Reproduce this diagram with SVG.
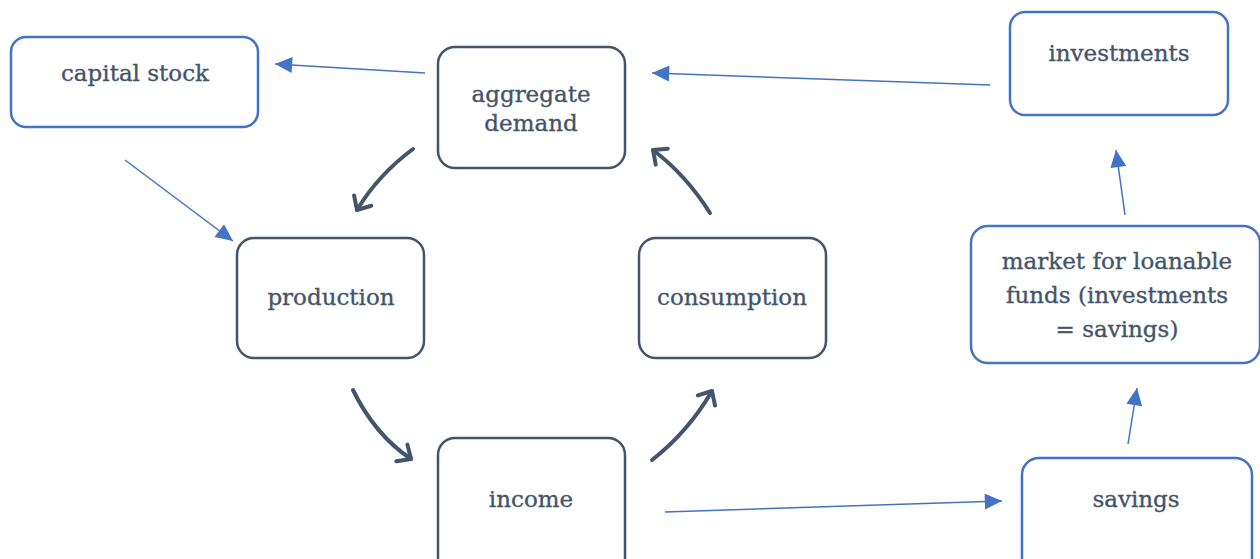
<svg xmlns="http://www.w3.org/2000/svg" width="1260" height="559" viewBox="0 0 1260 559">
  <style>
    .blue { fill: #ffffff; stroke: #4472c4; stroke-width: 2.5; }
    .dark { fill: #ffffff; stroke: #44546a; stroke-width: 2.5; }
    .lbl { font-family: "DejaVu Serif", "Liberation Serif", serif; font-size: 23px; fill: #44546a; stroke: #44546a; stroke-width: 0.35; text-anchor: middle; }
    .thin { fill: none; stroke: #4472c4; stroke-width: 1.5; marker-end: url(#tri); }
    .flow { fill: none; stroke: #44546a; stroke-width: 4; stroke-linecap: round; marker-end: url(#chev); }
  </style>
  <defs>
    <marker id="tri" markerUnits="userSpaceOnUse" markerWidth="20" markerHeight="16" refX="15" refY="7" orient="auto" viewBox="0 0 16 14">
      <path d="M0,0 L15,7 L0,14 Z" fill="#4472c4"/>
    </marker>
    <marker id="chev" markerUnits="userSpaceOnUse" markerWidth="30" markerHeight="30" refX="15" refY="15" orient="auto" viewBox="0 0 30 30">
      <path d="M4,5 L15,15 L4,25" fill="none" stroke="#44546a" stroke-width="4" stroke-linecap="round" stroke-linejoin="round"/>
    </marker>
  </defs>

  <rect width="1260" height="559" fill="#ffffff"/>

  <g id="connectors">
    <line class="thin" x1="425" y1="73" x2="275" y2="64"/>
    <line class="thin" x1="125" y1="160" x2="233" y2="241"/>
    <line class="thin" x1="990" y1="85" x2="652" y2="73"/>
    <line class="thin" x1="665" y1="512" x2="1002" y2="501"/>
    <line class="thin" x1="1128" y1="444" x2="1137" y2="388"/>
    <line class="thin" x1="1125" y1="215" x2="1116" y2="150"/>
    <path class="flow" d="M413,149 Q378,175 357,210"/>
    <path class="flow" d="M710,213 Q686,175 653,150"/>
    <path class="flow" d="M353,390 Q375,435 411,459"/>
    <path class="flow" d="M652,460 Q688,432 712,391"/>
  </g>

  <g id="capital-stock">
    <rect class="blue" x="11" y="37" width="247" height="90" rx="15"/>
    <text class="lbl" x="135" y="81">capital stock</text>
  </g>
  <g id="aggregate-demand">
    <rect class="dark" x="438" y="47" width="187" height="121" rx="17"/>
    <text class="lbl" x="531" y="102">aggregate</text>
    <text class="lbl" x="531" y="131">demand</text>
  </g>
  <g id="investments">
    <rect class="blue" x="1010" y="12" width="218" height="103" rx="15"/>
    <text class="lbl" x="1119" y="61">investments</text>
  </g>
  <g id="production">
    <rect class="dark" x="237" y="238" width="187" height="120" rx="17"/>
    <text class="lbl" x="331" y="305">production</text>
  </g>
  <g id="consumption">
    <rect class="dark" x="639" y="238" width="187" height="120" rx="17"/>
    <text class="lbl" x="732" y="305">consumption</text>
  </g>
  <g id="loanable-funds">
    <rect class="blue" x="971" y="226" width="289" height="137" rx="17"/>
    <text class="lbl" x="1117" y="269">market for loanable</text>
    <text class="lbl" x="1117" y="303">funds (investments</text>
    <text class="lbl" x="1117" y="337">= savings)</text>
  </g>
  <g id="income">
    <rect class="dark" x="438" y="438" width="187" height="140" rx="17"/>
    <text class="lbl" x="531" y="507">income</text>
  </g>
  <g id="savings">
    <rect class="blue" x="1022" y="458" width="230" height="120" rx="17"/>
    <text class="lbl" x="1136" y="507">savings</text>
  </g>
</svg>
